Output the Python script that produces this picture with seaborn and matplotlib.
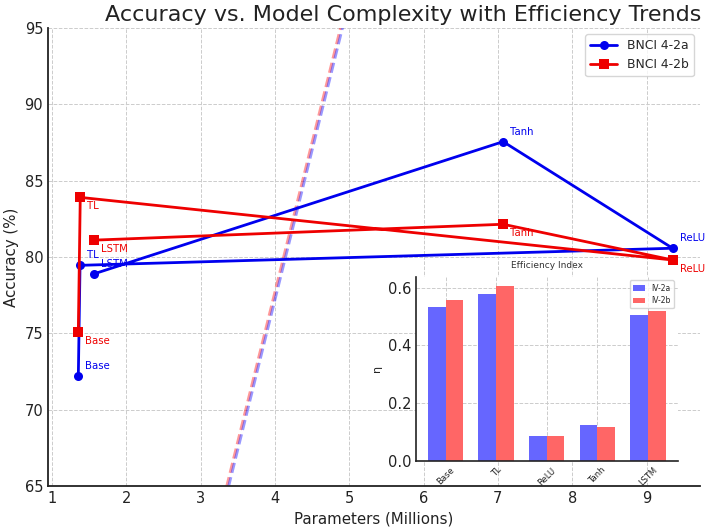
import numpy as np
import pandas as pd
import matplotlib
matplotlib.use("Agg")
import matplotlib.pyplot as plt
import seaborn as sns

# ---- data ----
models = ["Base", "TL", "ReLU", "Tanh", "LSTM"]
params_a = [1.354, 1.377, 9.35, 7.07, 1.57]
acc_a = [72.2, 79.45, 80.57, 87.55, 78.9]
params_b = [1.354, 1.38, 9.35, 7.07, 1.565]
acc_b = [75.1, 83.9, 79.8, 82.14, 81.1]
eff_a = [0.535, 0.577, 0.087, 0.124, 0.506]
eff_b = [0.557, 0.607, 0.087, 0.117, 0.521]
# trend lines: (slope in %/M, parameter value where accuracy = 65)
trend_a = (19.6, 3.378)
trend_b = (19.6, 3.351)

sns.set_style("white")
plt.rcParams["font.family"] = ["DejaVu Sans"]

fig = plt.figure(figsize=(7.08, 5.29), dpi=100)
ax = fig.add_axes([0.0678, 0.0813, 0.921, 0.866])

grid_kw = dict(color="#cccccc", linestyle="--", linewidth=0.7)
ax.grid(True, **grid_kw)
ax.set_axisbelow(True)

# trend lines
xs = np.linspace(2.5, 6.0, 50)
for (slope, x0), col in ((trend_b, "red"), (trend_a, "blue")):
    ys = 65 + slope * (xs - x0)
    sns.lineplot(x=xs, y=ys, ax=ax, color=col, alpha=0.4, linewidth=2,
                 linestyle="--", legend=False)

sns.lineplot(x=params_a, y=acc_a, sort=False, ax=ax, color="#0000ee",
             marker="o", markersize=6.5, markeredgewidth=0, linewidth=2,
             label="BNCI 4-2a")
sns.lineplot(x=params_b, y=acc_b, sort=False, ax=ax, color="#ee0000",
             marker="s", markersize=6.5, markeredgewidth=0, linewidth=2,
             label="BNCI 4-2b")

for m, x, y in zip(models, params_a, acc_a):
    ax.annotate(m, (x, y), xytext=(5, 7.2), textcoords="offset points",
                color="#0000ee", fontsize=7.3, va="center", ha="left")
for m, x, y in zip(models, params_b, acc_b):
    ax.annotate(m, (x, y), xytext=(5, -6.5), textcoords="offset points",
                color="#ee0000", fontsize=7.3, va="center", ha="left")

ax.set_xlim(0.946, 9.72)
ax.set_ylim(65, 95)
ax.set_xticks(range(1, 10))
ax.set_yticks(range(65, 96, 5))
ax.tick_params(direction="in", length=4, labelsize=10.5, colors="#222222",
               labelcolor="#222222")
for s in ("top", "right"):
    ax.spines[s].set_visible(False)
for s in ("left", "bottom"):
    ax.spines[s].set_color("#222222")
    ax.spines[s].set_linewidth(1.3)
ax.set_xlabel("Parameters (Millions)", fontsize=10.8, color="#222222")
ax.set_ylabel("Accuracy (%)", fontsize=10.8, color="#222222")
ax.set_title("Accuracy vs. Model Complexity with Efficiency Trends",
             fontsize=16, color="#222222", pad=5, x=0.545)
leg = ax.legend(loc="upper right", fontsize=8.9, frameon=True,
                borderaxespad=0.5, handlelength=2.2)
leg.get_frame().set_edgecolor("#cccccc")

# ---- inset ----
ins = fig.add_axes([0.5876, 0.129, 0.3694, 0.348])
df = pd.DataFrame({
    "model": models * 2,
    "eff": eff_a + eff_b,
    "set": ["IV-2a"] * len(models) + ["IV-2b"] * len(models),
})
sns.barplot(data=df, x="model", y="eff", hue="set", ax=ins,
            palette={"IV-2a": "#6666ff", "IV-2b": "#ff6666"},
            saturation=1, width=0.7, gap=0, linewidth=0)
ins.set_xlim(-0.585, 4.585)
ins.set_ylim(0, 0.6385)
ins.grid(True, **grid_kw)
ins.set_axisbelow(True)
ins.set_yticks([0.0, 0.2, 0.4, 0.6])
ins.tick_params(axis="y", direction="in", length=3, labelsize=10.5,
                colors="#222222")
ins.tick_params(axis="x", direction="in", length=3, labelsize=6,
                labelrotation=45, colors="#222222")
for s in ("top", "right"):
    ins.spines[s].set_visible(False)
for s in ("left", "bottom"):
    ins.spines[s].set_color("#222222")
    ins.spines[s].set_linewidth(1.2)
ins.set_xlabel("")
ins.set_ylabel("η", fontsize=8, color="#222222")
ins.set_title("Efficiency Index", fontsize=6.5, color="#333333", pad=6)
ileg = ins.legend(loc="upper right", fontsize=5.5, frameon=True,
                  handlelength=1.6)
ileg.get_frame().set_edgecolor("#cccccc")

fig.savefig("out.png", dpi=100)
